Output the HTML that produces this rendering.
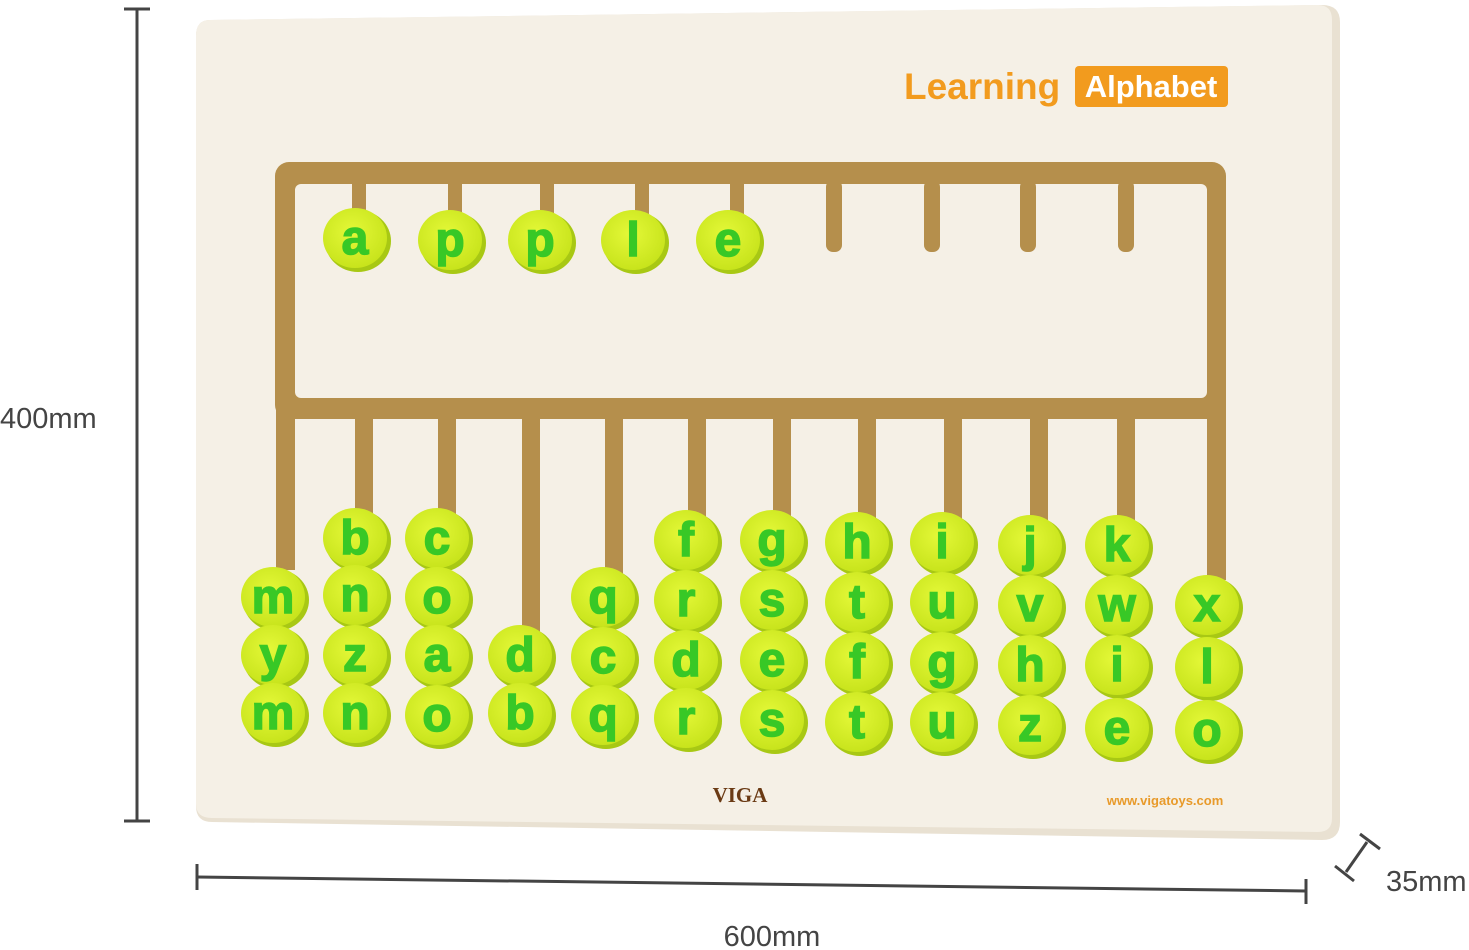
<!DOCTYPE html>
<html><head><meta charset="utf-8"><style>
html,body{margin:0;padding:0;background:#fff;width:1469px;height:950px;overflow:hidden}
svg{display:block}
.b text{font-family:"Liberation Sans",sans-serif;font-weight:bold;font-size:48px;fill:#38c826;text-anchor:middle;stroke:#38c826;stroke-width:1.5}
</style></head><body>
<svg width="1469" height="950" viewBox="0 0 1469 950" xmlns="http://www.w3.org/2000/svg">
<defs>
<radialGradient id="bg" cx="0.45" cy="0.4" r="0.6"><stop offset="0" stop-color="#e4f838"/><stop offset="1" stop-color="#c8e41c"/></radialGradient>
<g id="bead"><ellipse cx="3" cy="3" rx="33" ry="31" fill="#a8c814"/><ellipse cx="0" cy="0" rx="32" ry="30" fill="url(#bg)"/></g>
</defs>
<path d="M210,20 L1322,5 Q1340,5 1340,22 L1340,822 Q1340,840 1322,840 L212,822 Q196,822 196,806 L196,36 Q196,20 210,20 Z" fill="#e9e1d2"/>
<path d="M210,20 L1318,5 Q1332,5 1332,20 L1332,818 Q1332,832 1318,832 L212,818 Q196,818 196,804 L196,36 Q196,20 210,20 Z" fill="#f5f0e6"/>
<rect x="275" y="162" width="951" height="257" rx="14" fill="#b58f4c"/>
<rect x="295" y="184" width="912" height="214" rx="6" fill="#f5f0e6"/>
<g fill="#b58f4c">
<rect x="352" y="180" width="14" height="40"/><rect x="448" y="180" width="14" height="40"/><rect x="540" y="180" width="14" height="40"/><rect x="635" y="180" width="14" height="40"/><rect x="730" y="180" width="14" height="40"/>
<rect x="826" y="180" width="16" height="72" rx="7"/><rect x="924" y="180" width="16" height="72" rx="7"/><rect x="1020" y="180" width="16" height="72" rx="7"/><rect x="1118" y="180" width="16" height="72" rx="7"/>
<rect x="276" y="400" width="19" height="170"/>
<rect x="1207" y="400" width="19" height="180"/>
<rect x="355" y="410" width="18" height="110"/>
<rect x="438" y="410" width="18" height="110"/>
<rect x="522" y="410" width="18" height="230"/>
<rect x="605" y="410" width="18" height="170"/>
<rect x="688" y="410" width="18" height="110"/>
<rect x="773" y="410" width="18" height="110"/>
<rect x="858" y="410" width="18" height="110"/>
<rect x="944" y="410" width="18" height="110"/>
<rect x="1030" y="410" width="18" height="110"/>
<rect x="1117" y="410" width="18" height="110"/>
</g>
<text x="904" y="99" font-family="Liberation Sans,sans-serif" font-weight="bold" font-size="37" fill="#f29b1e">Learning</text>
<rect x="1075" y="66" width="153" height="41" rx="4" fill="#f29b1e"/>
<text x="1151" y="97" font-family="Liberation Sans,sans-serif" font-weight="bold" font-size="31" fill="#fff" text-anchor="middle">Alphabet</text>
<text x="740" y="802" font-family="Liberation Serif,serif" font-weight="bold" font-size="21" fill="#6a3a14" text-anchor="middle">VIGA</text>
<text x="1165" y="805" font-family="Liberation Sans,sans-serif" font-weight="bold" font-size="13" fill="#e89a2a" text-anchor="middle">www.vigatoys.com</text>
<g class="b">
<g transform="translate(355,238)"><use href="#bead"/><text y="16">a</text></g>
<g transform="translate(450,240)"><use href="#bead"/><text y="16">p</text></g>
<g transform="translate(540,240)"><use href="#bead"/><text y="16">p</text></g>
<g transform="translate(633,240)"><use href="#bead"/><text y="16">l</text></g>
<g transform="translate(728,240)"><use href="#bead"/><text y="16">e</text></g>
<g transform="translate(273,597)"><use href="#bead"/><text y="16">m</text></g>
<g transform="translate(273,655)"><use href="#bead"/><text y="16">y</text></g>
<g transform="translate(273,713)"><use href="#bead"/><text y="16">m</text></g>
<g transform="translate(355,538)"><use href="#bead"/><text y="16">b</text></g>
<g transform="translate(355,595)"><use href="#bead"/><text y="16">n</text></g>
<g transform="translate(355,655)"><use href="#bead"/><text y="16">z</text></g>
<g transform="translate(355,713)"><use href="#bead"/><text y="16">n</text></g>
<g transform="translate(437,538)"><use href="#bead"/><text y="16">c</text></g>
<g transform="translate(437,597)"><use href="#bead"/><text y="16">o</text></g>
<g transform="translate(437,655)"><use href="#bead"/><text y="16">a</text></g>
<g transform="translate(437,715)"><use href="#bead"/><text y="16">o</text></g>
<g transform="translate(520,655)"><use href="#bead"/><text y="16">d</text></g>
<g transform="translate(520,713)"><use href="#bead"/><text y="16">b</text></g>
<g transform="translate(603,597)"><use href="#bead"/><text y="16">q</text></g>
<g transform="translate(603,657)"><use href="#bead"/><text y="16">c</text></g>
<g transform="translate(603,715)"><use href="#bead"/><text y="16">q</text></g>
<g transform="translate(686,540)"><use href="#bead"/><text y="16">f</text></g>
<g transform="translate(686,600)"><use href="#bead"/><text y="16">r</text></g>
<g transform="translate(686,660)"><use href="#bead"/><text y="16">d</text></g>
<g transform="translate(686,718)"><use href="#bead"/><text y="16">r</text></g>
<g transform="translate(772,540)"><use href="#bead"/><text y="16">g</text></g>
<g transform="translate(772,600)"><use href="#bead"/><text y="16">s</text></g>
<g transform="translate(772,660)"><use href="#bead"/><text y="16">e</text></g>
<g transform="translate(772,720)"><use href="#bead"/><text y="16">s</text></g>
<g transform="translate(857,542)"><use href="#bead"/><text y="16">h</text></g>
<g transform="translate(857,602)"><use href="#bead"/><text y="16">t</text></g>
<g transform="translate(857,662)"><use href="#bead"/><text y="16">f</text></g>
<g transform="translate(857,722)"><use href="#bead"/><text y="16">t</text></g>
<g transform="translate(942,542)"><use href="#bead"/><text y="16">i</text></g>
<g transform="translate(942,602)"><use href="#bead"/><text y="16">u</text></g>
<g transform="translate(942,662)"><use href="#bead"/><text y="16">g</text></g>
<g transform="translate(942,722)"><use href="#bead"/><text y="16">u</text></g>
<g transform="translate(1030,545)"><use href="#bead"/><text y="16">j</text></g>
<g transform="translate(1030,605)"><use href="#bead"/><text y="16">v</text></g>
<g transform="translate(1030,665)"><use href="#bead"/><text y="16">h</text></g>
<g transform="translate(1030,725)"><use href="#bead"/><text y="16">z</text></g>
<g transform="translate(1117,545)"><use href="#bead"/><text y="16">k</text></g>
<g transform="translate(1117,605)"><use href="#bead"/><text y="16">w</text></g>
<g transform="translate(1117,665)"><use href="#bead"/><text y="16">i</text></g>
<g transform="translate(1117,728)"><use href="#bead"/><text y="16">e</text></g>
<g transform="translate(1207,605)"><use href="#bead"/><text y="16">x</text></g>
<g transform="translate(1207,667)"><use href="#bead"/><text y="16">l</text></g>
<g transform="translate(1207,730)"><use href="#bead"/><text y="16">o</text></g>
</g>
<g stroke="#444" stroke-width="3" fill="none">
<line x1="137" y1="9" x2="137" y2="821"/><line x1="124" y1="9" x2="150" y2="9"/><line x1="124" y1="821" x2="150" y2="821"/>
<line x1="197" y1="877" x2="1306" y2="891"/><line x1="197" y1="864" x2="197" y2="890"/><line x1="1306" y1="879" x2="1306" y2="904"/>
<line x1="1346" y1="872" x2="1367" y2="842"/><line x1="1360" y1="834" x2="1380" y2="849"/><line x1="1335" y1="866" x2="1354" y2="881"/>
</g>
<g font-family="Liberation Sans,sans-serif" font-size="29" fill="#444">
<text x="0" y="428">400mm</text>
<text x="772" y="946" text-anchor="middle">600mm</text>
<text x="1386" y="891">35mm</text>
</g>
</svg>
</body></html>
